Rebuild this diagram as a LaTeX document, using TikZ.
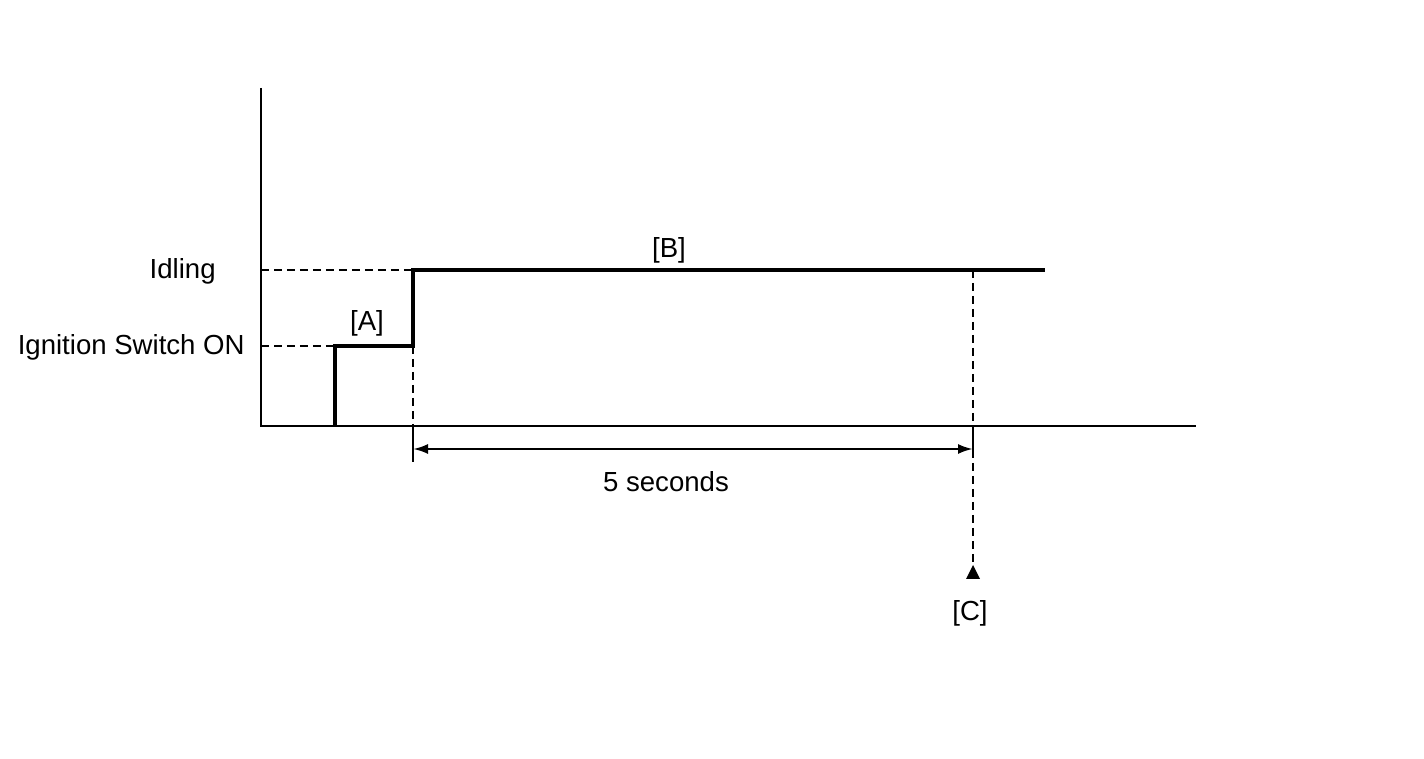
\documentclass[tikz,border=0pt]{standalone}
\usepackage{fontspec}
\setmainfont{Liberation Sans}
\usetikzlibrary{arrows.meta,positioning}

\begin{document}
\begin{tikzpicture}[
  x=0.02cm, y=-0.02cm,
  lbl/.style={font=\fontsize{15.7}{18}\selectfont, inner sep=0pt},
  axis/.style={line width=0.9pt},
  sig/.style={line width=2.2pt},
  guide/.style={line width=1.3pt, dash pattern=on 1.6mm off 1mm},
  tickln/.style={line width=1.3pt},
  dim/.style={line width=1.4pt,
              {Latex[length=3mm,width=2mm]}-{Latex[length=3mm,width=2mm]}}
]
\useasboundingbox (0,0) rectangle (1424,759);

% axes
\coordinate (orig) at (261,426);
\coordinate (ytop) at (261,88);
\coordinate (xend) at (1196,426);
\draw[axis] (ytop) -- (orig) -- (xend);

% level labels
\node[lbl, anchor=east] (idle) at (216,271) {Idling};
\node[lbl, anchor=east] (ign) at (245,347) {Ignition Switch ON};
\coordinate (yidle) at (261,270);
\coordinate (yign) at (261,346);

% signal
\coordinate (on) at (335,426);
\coordinate (onA) at (335,346);
\coordinate (stepA) at (413,346);
\coordinate (stepB) at (413,270);
\coordinate (endB) at (1045,270);
\draw[sig] (on) -- (onA) -- (stepA) -- (stepB) -- (endB);

\draw[guide] (yidle) -- (stepB);
\draw[guide] (yign) -- (onA);

% start of the 5 seconds
\coordinate (stepax) at (413,426);
\coordinate (stepbot) at (413,462);
\draw[guide] (stepA) -- (stepax);
\draw[tickln] (stepax) -- (stepbot);

% end of the 5 seconds
\coordinate (five) at (973,270);
\coordinate (fiveax) at (973,426);
\coordinate (fivebot) at (973,450);
\coordinate (ctip) at (973,565);
\draw[guide] (five) -- (fiveax);
\draw[tickln] (fiveax) -- (fivebot);
\draw[guide] (fivebot) -- (ctip);
\fill (ctip) -- ++(7,14) -- ++(-14,0) -- cycle;

% dimension
\coordinate (dimL) at (413,449);
\coordinate (dimR) at (973,449);
\draw[dim] (dimL) -- (dimR);
\node[lbl] (secs) at (666,482) {5 seconds};

% phase labels
\node[lbl] (phA) at (367,323) {[A]};
\node[lbl] (phB) at (669,250) {[B]};
\node[lbl] (phC) at (970,613) {[C]};

\end{tikzpicture}
\end{document}
